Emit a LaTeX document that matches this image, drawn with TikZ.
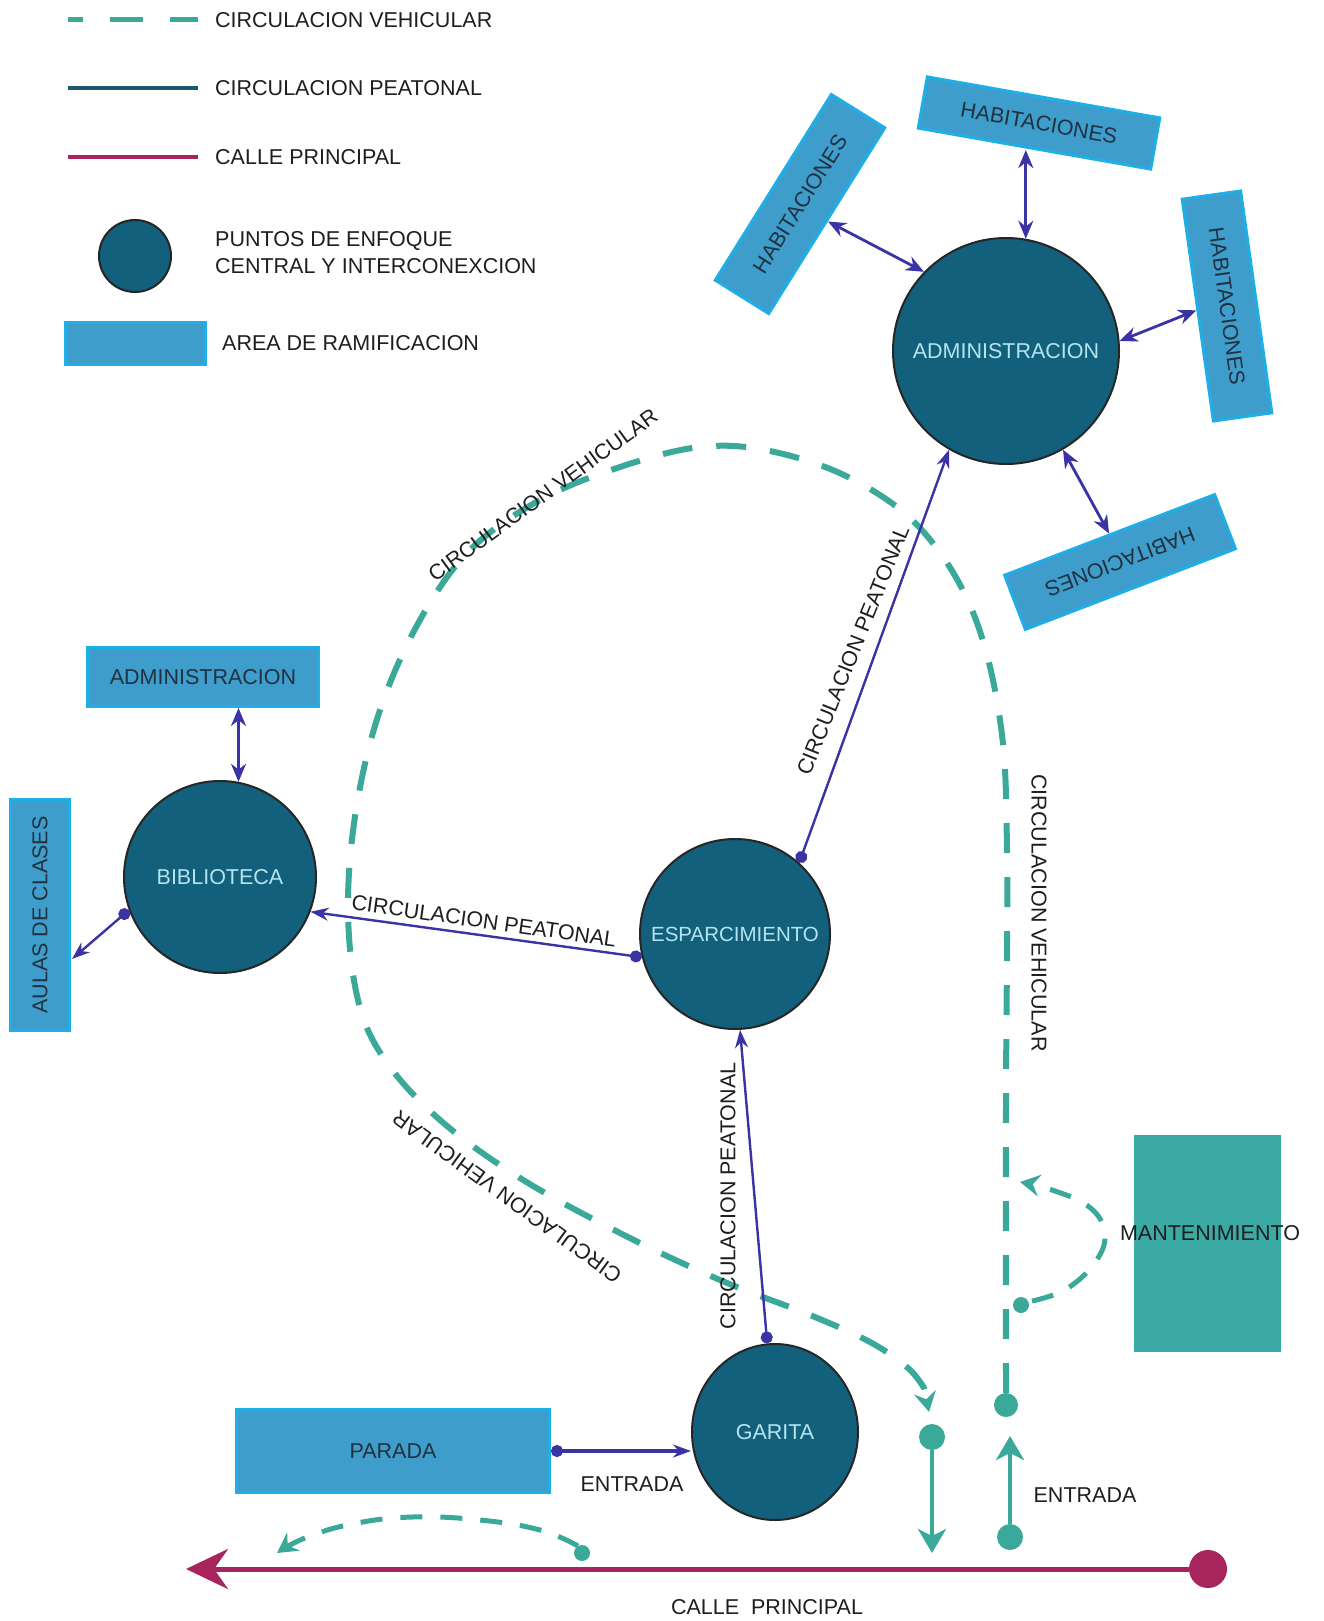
\documentclass[tikz,border=0pt]{standalone}
\usepackage{fontspec}
\setmainfont{Liberation Sans}
\usetikzlibrary{arrows.meta,calc,shapes.geometric}
\definecolor{hubc}{HTML}{12607B}
\definecolor{hubtxt}{HTML}{B5E4F0}
\definecolor{rectfill}{HTML}{3E9DCB}
\definecolor{rectline}{HTML}{1FAEE6}
\definecolor{recttxt}{HTML}{22313F}
\definecolor{peat}{HTML}{3A33A3}
\definecolor{peatleg}{HTML}{1C5872}
\definecolor{veh}{HTML}{3BA99A}
\definecolor{callec}{HTML}{A8245C}
\definecolor{mantc}{HTML}{3BAAA5}
\definecolor{txt}{HTML}{1E1E1E}
\tikzset{
  every node/.style={font=\fontsize{21.5}{27}\selectfont, text=txt},
  hub/.style={circle, fill=hubc, draw=black!85, line width=2pt, inner sep=0pt, text=hubtxt},
  area/.style={rectangle, fill=rectfill, draw=rectline, line width=3pt, inner sep=0pt, text=recttxt},
  lbl/.style={inner sep=0pt, text=txt},
  peatarr/.style={draw=peat, line width=2.4pt, {Circle[length=12pt]}-{Stealth[length=18pt,width=13pt]}},
  dblarr/.style={draw=peat, line width=2.8pt, {Stealth[length=18pt,width=15pt]}-{Stealth[length=18pt,width=15pt]}},
  vehpath/.style={draw=veh, line width=6pt, dash pattern=on 30pt off 24pt},
  vehsmall/.style={draw=veh, line width=5pt, dash pattern=on 22pt off 18pt},
  vtip/.style={-{Stealth[length=20pt,width=22pt,inset=7pt]}},
  vdot/.style={circle, fill=veh, inner sep=0pt, minimum size=#1},
  entarr/.style={draw=veh, line width=4.5pt, -{Stealth[length=24pt,width=28pt,inset=7pt]}},
  callearr/.style={draw=callec, line width=5pt, -{Stealth[length=42pt,width=40pt,inset=14pt]}},
}
\begin{document}
\begin{tikzpicture}[x=1pt,y=-1pt]
\useasboundingbox (0,0) rectangle (1323,1621);

% ---------- legend ----------
\coordinate (la1) at (68,20);  \coordinate (la2) at (198,20);
\draw[draw=veh, line width=5pt, dash pattern=on 33pt off 27pt, dash phase=18pt] (la1) -- (la2);
\node[lbl, anchor=west] (lt1) at (215,20) {CIRCULACION VEHICULAR};
\coordinate (lb1) at (68,88);  \coordinate (lb2) at (198,88);
\draw[draw=peatleg, line width=4pt] (lb1) -- (lb2);
\node[lbl, anchor=west] (lt2) at (215,88) {CIRCULACION PEATONAL};
\coordinate (lc1) at (68,157);  \coordinate (lc2) at (198,157);
\draw[draw=callec, line width=4pt] (lc1) -- (lc2);
\node[lbl, anchor=west] (lt3) at (215,157) {CALLE PRINCIPAL};
\node[hub, minimum size=72pt] (lcirc) at (135,256) {};
\node[lbl, anchor=west, align=left] (lt4) at (215,253) {PUNTOS DE ENFOQUE\\CENTRAL Y INTERCONEXCION};
\node[area, minimum width=140pt, minimum height=42pt] (lrect) at (135,343) {};
\node[lbl, anchor=west] (lt5) at (222,343) {AREA DE RAMIFICACION};

% ---------- hubs ----------
\node[hub, minimum size=226pt] (adm) at (1006,351) {ADMINISTRACION};
\node[hub, minimum size=192pt] (bib) at (220,877) {BIBLIOTECA};
\node[hub, minimum size=190pt, font=\fontsize{20.5}{24}\selectfont] (esp) at (735,934) {ESPARCIMIENTO};
\node[hub, ellipse, minimum width=166pt, minimum height=176pt] (gar) at (775,1432) {GARITA};

% ---------- areas ----------
\node[area, minimum width=219pt, minimum height=63pt, rotate=58] (hab1) at (800,204) {HABITACIONES};
\node[area, minimum width=236pt, minimum height=52pt, rotate=-10] (hab2) at (1039,123) {HABITACIONES};
\node[area, minimum width=224pt, minimum height=59pt, rotate=-82] (hab3) at (1227,306) {HABITACIONES};
\node[area, minimum width=225pt, minimum height=58pt, rotate=-159] (hab4) at (1120,562) {HABITACIONES};
\node[area, minimum width=231pt, minimum height=59pt] (adm2) at (203,677) {ADMINISTRACION};
\node[area, minimum width=231pt, minimum height=59pt, rotate=90] (aulas) at (40,915) {AULAS DE CLASES};
\node[area, minimum width=313pt, minimum height=83pt] (parada) at (393,1451) {PARADA};
\node[fill=mantc, minimum width=147pt, minimum height=217pt, inner sep=0pt] (mant) at (1207,1243) {};
\node[lbl] (manttxt) at (1210,1233) {MANTENIMIENTO};

% ---------- vehicular routes ----------
\node[vdot=24pt] (vstart) at (1006,1405) {};
\coordinate (vend) at (929,1412);
\draw[vehpath, vtip] plot[smooth, tension=0.6] coordinates {
 (1006,1393) (1006,1100) (1007,850) (1000,720) (972,610) (920,528) (850,478)
 (770,451) (700,447) (620,467) (540,500) (470,550) (420,620) (380,710)
 (356,810) (348,910) (358,1000) (385,1060) (440,1120) (520,1178) (620,1233)
 (720,1280) (810,1315) (870,1342) (908,1368) (924,1388)} -- (vend);
\node[vdot=16pt] (mdot) at (1021,1305) {};
\draw[vehsmall, vtip] plot[smooth, tension=0.7] coordinates {
 (1032,1301) (1068,1288) (1098,1258) (1104,1230) (1088,1206) (1052,1190) (1020,1182)};
\node[vdot=16pt] (pdot) at (582,1553) {};
\draw[vehsmall, vtip] plot[smooth, tension=0.7] coordinates {
 (578,1546) (540,1530) (480,1520) (412,1517) (352,1524) (305,1538) (277,1553)};

% ---------- entries ----------
\node[vdot=26pt] (e1) at (932,1437) {};
\coordinate (e1end) at (932,1553);
\draw[entarr] (e1) -- (e1end);
\node[vdot=26pt] (e2) at (1010,1537) {};
\coordinate (e2end) at (1010,1436);
\draw[entarr] (e2) -- (e2end);

% ---------- calle principal ----------
\node[circle, fill=callec, inner sep=0pt, minimum size=38pt] (cdot) at (1208,1569) {};
\coordinate (cend) at (186,1569);
\draw[callearr] (cdot) -- (cend);

% ---------- pedestrian connectors ----------
\draw[peatarr] (esp.194) -- (bib.-21);
\draw[peatarr] (esp.48) -- (adm.240);
\draw[peatarr] (gar.95) -- (esp.273);
\draw[peatarr, line width=3.2pt] (parada.east) -- (parada.east -| gar.west);
\draw[dblarr] (bib.79) -- (bib.79 |- adm2.south);
\coordinate (aulasin) at (72,959);
\draw[peatarr] (bib.200) -- (aulasin);
\draw[dblarr] (adm.136) -- (hab1.south);
\draw[dblarr] (adm.80) -- (adm.80 |- hab2.south);
\draw[dblarr] (adm.5) -- (hab3.south);
\draw[dblarr] (adm.-60) -- (hab4.south);

% ---------- labels ----------
\node[lbl, rotate=36] (lv1) at (543,495) {CIRCULACION VEHICULAR};
\node[lbl, rotate=144] (lv2) at (507,1197) {CIRCULACION VEHICULAR};
\node[lbl, rotate=-90] (lv3) at (1039,913) {CIRCULACION VEHICULAR};
\node[lbl, rotate=-8] (lp1) at (484,921) {CIRCULACION PEATONAL};
\node[lbl, rotate=68] (lp2) at (853,650) {CIRCULACION PEATONAL};
\node[lbl, rotate=90] (lp3) at (728,1196) {CIRCULACION PEATONAL};
\node[lbl] (le1) at (632,1484) {ENTRADA};
\node[lbl] (le2) at (1085,1495) {ENTRADA};
\node[lbl] (lcp) at (767,1607) {CALLE\ \ PRINCIPAL};
\end{tikzpicture}
\end{document}
